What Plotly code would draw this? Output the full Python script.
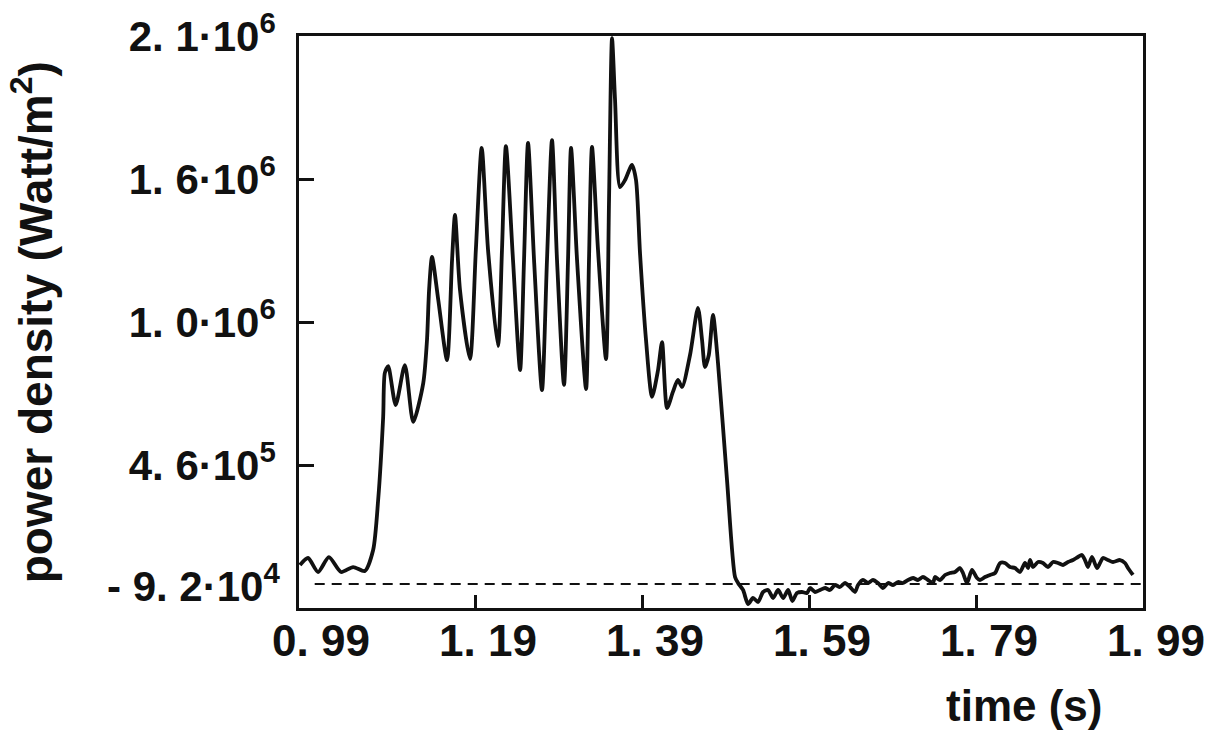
import plotly.graph_objects as go

# ---- data (time in s, power density in MW/m^2) ----
time_s = [0.9804, 0.990, 1.002, 1.015, 1.0295, 1.044, 1.058, 1.068, 1.074, 1.080,
          1.082, 1.086, 1.095, 1.106, 1.116, 1.128, 1.1325, 1.135, 1.1385, 1.146,
          1.1565, 1.1625, 1.166, 1.172, 1.184, 1.191, 1.198, 1.2056, 1.2175, 1.2223,
          1.227, 1.2355, 1.244, 1.2487, 1.2535, 1.2607, 1.2702, 1.2762, 1.2822, 1.2882,
          1.2966, 1.3014, 1.305, 1.3122, 1.323, 1.3265, 1.3301, 1.3373, 1.3469, 1.3505,
          1.3541, 1.3577, 1.3637, 1.3697, 1.378, 1.3828, 1.3876, 1.3948, 1.402, 1.4092,
          1.414, 1.420, 1.427, 1.433, 1.438, 1.4475, 1.457, 1.4619, 1.4654, 1.470,
          1.475, 1.481, 1.4918, 1.5014, 1.505, 1.511, 1.517, 1.523, 1.529, 1.535,
          1.541, 1.547, 1.553, 1.559, 1.565, 1.570, 1.5756, 1.5816, 1.5876, 1.5912,
          1.5972, 1.6032, 1.6092, 1.6151, 1.6211, 1.6271, 1.6331, 1.6391, 1.6451, 1.6487,
          1.6547, 1.6607, 1.6666, 1.6726, 1.6786, 1.6846, 1.6906, 1.6966, 1.7026, 1.7086,
          1.7146, 1.7205, 1.7265, 1.7325, 1.7385, 1.7409, 1.7469, 1.7529, 1.7589, 1.7649,
          1.7708, 1.7744, 1.7792, 1.7852, 1.7912, 1.7948, 1.8008, 1.8068, 1.8128, 1.8188,
          1.8247, 1.8307, 1.8367, 1.8427, 1.8487, 1.8523, 1.8547, 1.8583, 1.8643, 1.8702,
          1.8762, 1.8822, 1.8882, 1.8942, 1.9002, 1.9062, 1.9121, 1.9169, 1.9205, 1.9241,
          1.9289, 1.9349, 1.9385, 1.9421, 1.9481, 1.9541, 1.9625, 1.9684, 1.9720, 1.9780]

power_MW = [0.0728, 0.0996, 0.046, 0.103, 0.046, 0.065, 0.050, 0.130, 0.322, 0.640,
            0.809, 0.835, 0.686, 0.839, 0.621, 0.770, 0.935, 1.127, 1.253, 1.088,
            0.858, 1.2415, 1.414, 1.127, 0.862, 1.280, 1.671, 1.280, 0.912, 1.280,
            1.678, 1.2415, 0.820, 1.2415, 1.690, 1.2415, 0.743, 1.2415, 1.701, 1.2415,
            0.763, 1.2415, 1.671, 1.2415, 0.747, 1.2415, 1.675, 1.280, 0.862, 1.4715,
            2.092, 1.855, 1.521, 1.548, 1.606, 1.548, 1.268, 0.935, 0.717, 0.820,
            0.927, 0.674, 0.736, 0.782, 0.755, 0.8775, 1.058, 0.935, 0.8315, 0.8775,
            1.031, 0.847, 0.3985, 0.027, 0.004, -0.023, -0.0767, -0.0537, -0.069, -0.0307,
            -0.023, -0.0537, -0.023, -0.0537, -0.023, -0.0652, -0.0345, -0.0307, -0.0345, -0.0154,
            -0.0307, -0.023, -0.0154, -0.023, -0.0039, -0.0115, 0.0038, -0.0115, -0.0307, -0.0039,
            0.0153, 0.0038, 0.0153, 0.0038, -0.0154, 0.0038, -0.0039, 0.0076, 0.0038, 0.0153,
            0.023, 0.0153, 0.0268, 0.0153, 0.0038, 0.0268, 0.0153, 0.0345, 0.0421, 0.046,
            0.0613, 0.0421, 0.0038, 0.0536, 0.023, 0.0153, 0.0268, 0.0345, 0.0421, 0.0804,
            0.0804, 0.0651, 0.0613, 0.046, 0.0804, 0.0613, 0.0919, 0.0651, 0.0843, 0.0804,
            0.0651, 0.0843, 0.0804, 0.0728, 0.0843, 0.0919, 0.1034, 0.1111, 0.0919, 0.0651,
            0.1034, 0.0613, 0.0804, 0.0996, 0.0919, 0.0843, 0.0919, 0.0804, 0.0613, 0.0345]

zero_line_t = [0.998, 1.99]
zero_line_p = [0.0, 0.0]

x_tick_vals = [0.99, 1.19, 1.39, 1.59, 1.79, 1.99]
x_tick_text = ["0. 99", "1. 19", "1. 39", "1. 59", "1. 79", "1. 99"]
x_mark_vals = [1.19, 1.39, 1.59, 1.79]

y_tick_vals = [456000, 1004000, 1552000, 2100000]
y_tick_text = ["4. 6·10<sup>5</sup>", "1. 0·10<sup>6</sup>", "1. 6·10<sup>6</sup>", "2. 1·10<sup>6</sup>"]
y_bottom_val = -92000
y_bottom_text = "- 9. 2·10<sup>4</sup>"

x_range = [0.9792, 1.99]
y_range = [-92000, 2100000]

FONT = "Liberation Sans, Arial, Helvetica, sans-serif"
INK = "#111111"

power_wm2 = [v * 1e6 for v in power_MW]

fig = go.Figure()
fig.add_trace(go.Scatter(x=zero_line_t, y=zero_line_p, mode="lines",
                         line=dict(color=INK, width=2.2, dash="10px,7px"),
                         hoverinfo="skip", showlegend=False))
fig.add_trace(go.Scatter(x=time_s, y=power_wm2, mode="lines",
                         line=dict(color=INK, width=3.8, shape="spline", smoothing=0.7),
                         showlegend=False))
# helper trace so the tick-mark overlay axis exists
fig.add_trace(go.Scatter(x=[], y=[], xaxis="x2", yaxis="y", showlegend=False))

fig.update_layout(
    width=1211, height=735,
    margin=dict(l=299, r=68, t=36, b=127),
    paper_bgcolor="white", plot_bgcolor="white",
    font=dict(family=FONT, color=INK, weight=700),
    xaxis=dict(range=x_range, tickmode="array", tickvals=x_tick_vals, ticktext=x_tick_text,
               ticks="", showgrid=False, zeroline=False, automargin=False,
               showline=True, mirror=True, linecolor=INK, linewidth=2.5,
               tickfont=dict(size=44, family=FONT, weight=700),
               ticklabelstandoff=-8, ticklabelshift=13, ticklabeloverflow="allow"),
    xaxis2=dict(range=x_range, overlaying="x", matches="x", side="bottom",
                tickmode="array", tickvals=x_mark_vals, ticks="inside", ticklen=13,
                tickwidth=2.5, tickcolor=INK, showticklabels=False, automargin=False,
                showgrid=False, zeroline=False, showline=False),
    yaxis=dict(range=y_range, tickmode="array", tickvals=y_tick_vals, ticktext=y_tick_text,
               ticks="inside", ticklen=15, tickwidth=2.5, tickcolor=INK,
               showgrid=False, zeroline=False, automargin=False,
               showline=True, mirror=True, linecolor=INK, linewidth=2.5,
               tickfont=dict(size=42, family=FONT, weight=700),
               ticklabelstandoff=12, ticklabeloverflow="allow"),
)

fig.add_annotation(x=0, xref="paper", y=y_bottom_val, yref="y", text=y_bottom_text,
                   showarrow=False, xanchor="right", yanchor="middle",
                   xshift=-17, yshift=25,
                   font=dict(size=42, family=FONT, color=INK, weight=700))
fig.add_annotation(x=0.859, xref="paper", y=-0.17, yref="paper", text="time (s)",
                   showarrow=False, xanchor="center", yanchor="middle",
                   font=dict(size=44, family=FONT, color=INK, weight=700))
fig.add_annotation(x=-0.316, xref="paper", y=0.5, yref="paper",
                   text="power density (Watt/m<sup>2</sup>)", textangle=-90,
                   showarrow=False, xanchor="center", yanchor="middle",
                   font=dict(size=46, family=FONT, color=INK, weight=700))

fig.write_html("out.html")
